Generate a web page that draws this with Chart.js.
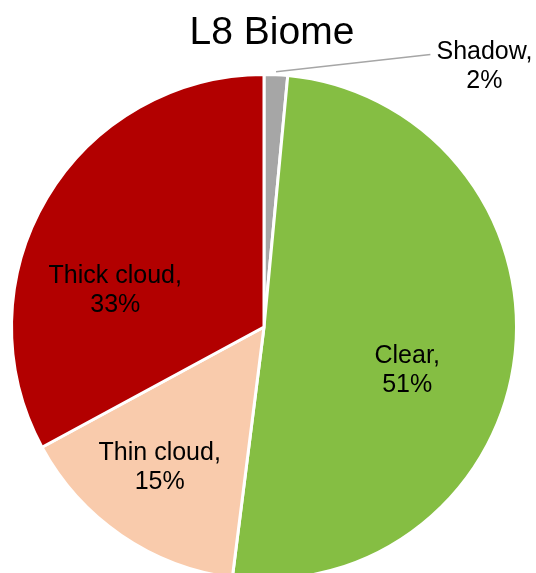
<!DOCTYPE html>
<html>
<head>
<meta charset="utf-8">
<title>L8 Biome</title>
<script src="https://cdn.jsdelivr.net/npm/chart.js@4/dist/chart.umd.min.js"></script>
<style>
    html, body { margin: 0; padding: 0; background: #fff; overflow: hidden; }
    #wrap { width: 536px; height: 573px; overflow: hidden; }
</style>
</head>
<body>
<div id="wrap">
    <canvas id="pieChart" width="536" height="600"></canvas>
</div>
<script>
const categories = ['Shadow', 'Clear', 'Thin cloud', 'Thick cloud'];
const values = [1.5, 50.5, 15.1, 32.9];
const percentLabels = ['2%', '51%', '15%', '33%'];
const colors = ['#A6A6A6', '#85BE43', '#F9CBAC', '#B20000'];

// posição dos rótulos relativa ao centro, em fração do raio
const labelOffsets = [[0.873, -1.032], [0.567, 0.171], [-0.413, 0.556], [-0.589, -0.147]];

const labelPlugin = {
    id: 'pieLabels',
    afterDatasetsDraw(chart) {
        const ctx = chart.ctx;
        const meta = chart.getDatasetMeta(0);
        const first = meta.data[0];
        const cx = first.x, cy = first.y, r = first.outerRadius;

        // título
        ctx.save();
        ctx.fillStyle = '#000';
        ctx.font = '39px "Liberation Sans", Arial, sans-serif';
        ctx.textAlign = 'center';
        ctx.textBaseline = 'middle';
        ctx.fillText('L8 Biome', 272, 33);

        // linha de chamada do Shadow
        const a = (first.startAngle + first.endAngle) / 2;
        ctx.strokeStyle = '#A6A6A6';
        ctx.lineWidth = 1.5;
        ctx.beginPath();
        ctx.moveTo(cx + Math.cos(a) * (r + 3), cy + Math.sin(a) * (r + 3));
        ctx.lineTo(cx + 0.659 * r, cy - 1.079 * r);
        ctx.stroke();

        ctx.font = '25px "Liberation Sans", Arial, sans-serif';
        meta.data.forEach((arc, i) => {
            const x = cx + labelOffsets[i][0] * r;
            const y = cy + labelOffsets[i][1] * r;
            ctx.fillText(categories[i] + ',', x, y - 14);
            ctx.fillText(percentLabels[i], x, y + 15);
        });
        ctx.restore();
    }
};

new Chart(document.getElementById('pieChart'), {
    type: 'pie',
    data: {
        labels: categories,
        datasets: [{
            data: values,
            backgroundColor: colors,
            borderColor: '#ffffff',
            borderWidth: 3
        }]
    },
    options: {
        responsive: false,
        animation: false,
        layout: { padding: { left: 10, right: 18, top: 73, bottom: 19 } },
        plugins: {
            legend: { display: false },
            tooltip: { enabled: false }
        }
    },
    plugins: [labelPlugin]
});
</script>
</body>
</html>
